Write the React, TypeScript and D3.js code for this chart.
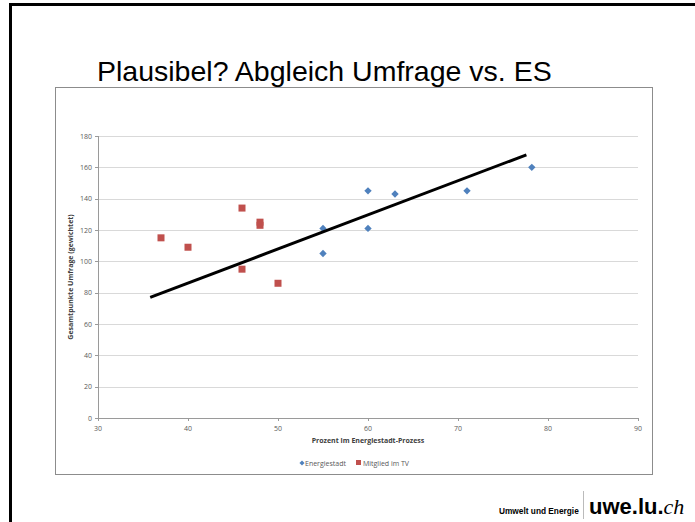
import React from "react";
import * as d3 from "d3";

const xTicks = [30, 40, 50, 60, 70, 80, 90];
const yTicks = [0, 20, 40, 60, 80, 100, 120, 140, 160, 180];

const energiestadtX = [55, 55, 60, 60, 63, 71, 78.2];
const energiestadtY = [121, 105, 145, 121, 143, 145, 160];

const tvX = [37, 40, 46, 46, 48, 48, 50];
const tvY = [115, 109, 134, 95, 125, 123, 86];

const trendX = [35.8, 77.6];
const trendY = [77, 168];

const title = "Plausibel? Abgleich Umfrage vs. ES";
const xTitle = "Prozent im Energiestadt-Prozess";
const yTitle = "Gesamtpunkte Umfrage (gewichtet)";
const seriesNames = ["Energiestadt", "Mitglied im TV"];

const W = 695;
const H = 522;
const plot = { left: 98, right: 638, top: 136, bottom: 418 };

export default function App() {
  const x = d3.scaleLinear().domain([30, 90]).range([plot.left, plot.right]);
  const y = d3.scaleLinear().domain([0, 180]).range([plot.bottom, plot.top]);
  const line = d3
    .line<number>()
    .x((_, i) => x(trendX[i]))
    .y((d) => y(d));
  const font = "'Liberation Sans', Arial, sans-serif";
  const small = "'Open Sans', 'Liberation Sans', sans-serif";

  return (
    <svg
      width={W}
      height={H}
      style={{ position: "absolute", left: 0, top: 0, background: "#fff" }}
    >
      <rect x={0} y={0} width={W} height={H} fill="#fff" />
      {/* slide frame */}
      <line x1={9} x2={W} y1={4.5} y2={4.5} stroke="#000" strokeWidth={3} />
      <line x1={10.5} x2={10.5} y1={3} y2={H} stroke="#000" strokeWidth={3} />

      <text x={97} y={81} fontFamily={font} fontSize={28.5} fill="#000">
        {title}
      </text>

      {/* chart box */}
      <rect x={55.5} y={87.5} width={597} height={387} fill="#fff" stroke="#8c8c8c" strokeWidth={1} />

      {/* grid */}
      {yTicks.map((t) => (
        <line
          key={"g" + t}
          x1={plot.left}
          x2={plot.right}
          y1={Math.round(y(t)) + 0.5}
          y2={Math.round(y(t)) + 0.5}
          stroke={t === 0 ? "#9a9a9a" : "#d9d9d9"}
          strokeWidth={1}
        />
      ))}
      <line x1={plot.left + 0.5} x2={plot.left + 0.5} y1={plot.top} y2={plot.bottom + 3} stroke="#9a9a9a" />
      {yTicks.map((t) => (
        <line key={"yt" + t} x1={plot.left - 3} x2={plot.left} y1={Math.round(y(t)) + 0.5} y2={Math.round(y(t)) + 0.5} stroke="#9a9a9a" />
      ))}
      {xTicks.map((t) => (
        <line key={"xt" + t} x1={Math.round(x(t)) + 0.5} x2={Math.round(x(t)) + 0.5} y1={plot.bottom} y2={plot.bottom + 3} stroke="#9a9a9a" />
      ))}
      {yTicks.map((t) => (
        <text key={"yl" + t} x={plot.left - 6} y={y(t) + 2.5} textAnchor="end" fontFamily={small} fontSize={7} fill="#595959">
          {t}
        </text>
      ))}
      {xTicks.map((t) => (
        <text key={"xl" + t} x={x(t)} y={plot.bottom + 13} textAnchor="middle" fontFamily={small} fontSize={7} fill="#595959">
          {t}
        </text>
      ))}
      <text x={x(60)} y={443} textAnchor="middle" fontFamily={small} fontSize={7} fontWeight="bold" fill="#404040">
        {xTitle}
      </text>
      <text
        transform={`translate(73, ${y(90)}) rotate(-90)`}
        textAnchor="middle"
        fontFamily={small}
        fontSize={7}
        fontWeight="bold"
        fill="#404040"
      >
        {yTitle}
      </text>

      {/* series */}
      {tvX.map((v, i) => (
        <rect key={"tv" + i} x={x(v) - 3.5} y={y(tvY[i]) - 3.5} width={7} height={7} fill="#c0504d" />
      ))}
      {energiestadtX.map((v, i) => (
        <rect
          key={"es" + i}
          x={-2.6}
          y={-2.6}
          width={5.2}
          height={5.2}
          transform={`translate(${x(v)},${y(energiestadtY[i])}) rotate(45)`}
          fill="#4f81bd"
        />
      ))}

      <path d={line(trendY) || ""} stroke="#000" strokeWidth={3} fill="none" />

      {/* legend */}
      <rect x={-1.8} y={-1.8} width={3.6} height={3.6} transform="translate(302,463) rotate(45)" fill="#4f81bd" />
      <text x={305} y={465.5} fontFamily={small} fontSize={7} fill="#595959">
        {seriesNames[0]}
      </text>
      <rect x={356} y={460} width={5} height={5} fill="#c0504d" />
      <text x={363} y={465.5} fontFamily={small} fontSize={7} fill="#595959">
        {seriesNames[1]}
      </text>

      {/* footer */}
      <text x={499} y={514} fontFamily={font} fontSize={8.3} fontWeight="bold" fill="#000">
        Umwelt und Energie
      </text>
      <line x1={583.5} x2={583.5} y1={491} y2={519} stroke="#bbb" />
      <text x={589} y={514} fontFamily={font} fontSize={22} fontWeight="bold" fill="#000">
        uwe.lu.
        <tspan fontFamily={"'Liberation Serif', serif"} fontStyle="italic" fontWeight="normal" fontSize={22}>
          ch
        </tspan>
      </text>
    </svg>
  );
}
